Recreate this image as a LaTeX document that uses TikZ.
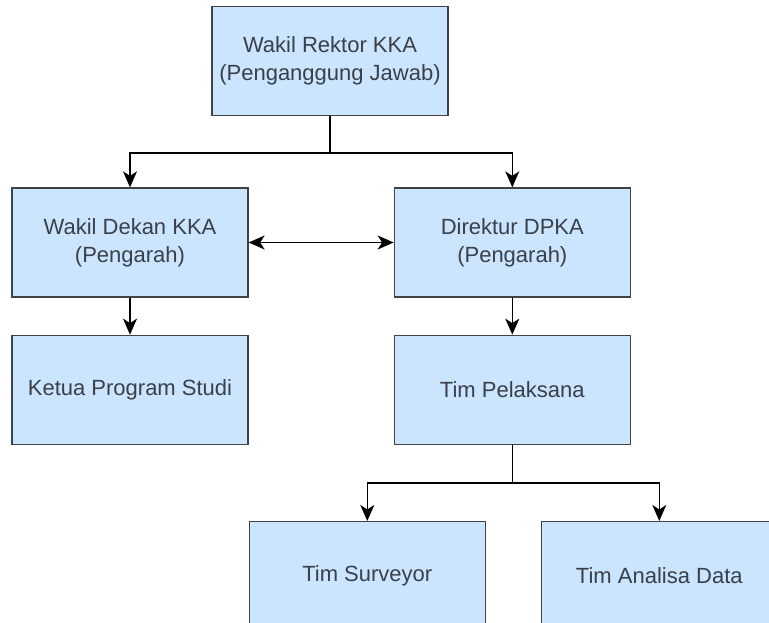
\documentclass[tikz,border=0pt]{standalone}
\usepackage{fontspec}
\setmainfont{Liberation Sans}
\usetikzlibrary{positioning, arrows.meta}

\definecolor{boxfill}{HTML}{CCE5FF}
\definecolor{boxline}{HTML}{3F4246}
\definecolor{boxtext}{HTML}{3A3F48}

\begin{document}
\begin{tikzpicture}[x=1pt, y=1pt,
    box/.style = {draw=boxline, fill=boxfill, line width=1.3pt,
                  minimum width=236pt, minimum height=109pt,
                  align=center, text=boxtext,
                  font=\fontsize{22pt}{28pt}\selectfont},
    tip/.tip = {Stealth[length=16pt, width=14pt, inset=4.5pt]},
    link/.style = {line width=1.6pt, -tip}]
    \useasboundingbox (0,0) rectangle (769,-623);

    % Boxes
    \node[box] (rektor) at (330,-61) {Wakil Rektor KKA\\(Penganggung Jawab)};
    \node[box] (dekan) at (130,-242.5) {Wakil Dekan KKA\\(Pengarah)};
    \node[box] (direktur) [right=145pt of dekan] {Direktur DPKA\\(Pengarah)};
    \node[box] (ketua) [below=37pt of dekan] {Ketua Program Studi};
    \node[box] (pelaksana) [below=37pt of direktur] {Tim Pelaksana};
    \node[box] (surveyor) [below=76pt of pelaksana, xshift=-145pt] {Tim Surveyor};
    \node[box] (analisa) [below=76pt of pelaksana, xshift=147pt] {Tim Analisa Data};

    % Connectors
    \draw[link] (rektor.south) -- ++(0,-37) -| (dekan.north);
    \draw[link] (rektor.south) -- ++(0,-37) -| (direktur.north);
    \draw[link, tip-tip] (dekan.east) -- (direktur.west);
    \draw[link] (dekan.south) -- (ketua.north);
    \draw[link] (direktur.south) -- (pelaksana.north);
    \draw[link] (pelaksana.south) -- ++(0,-38) -| (surveyor.north);
    \draw[link] (pelaksana.south) -- ++(0,-38) -| (analisa.north);
\end{tikzpicture}
\end{document}
